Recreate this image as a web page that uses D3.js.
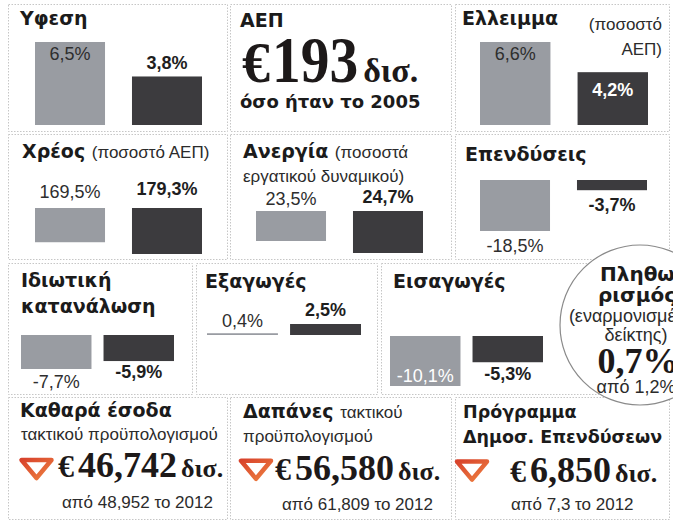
<!DOCTYPE html>
<html>
<head>
<meta charset="utf-8">
<script src="https://cdn.jsdelivr.net/npm/d3@7"></script>
<style>
body { margin: 0; background: #fff; }
svg { display: block; }
.t { font-family: "DejaVu Sans"; font-weight: bold; font-size: 19px; fill: #1b1b1b; }
.n { font-family: "Liberation Sans"; font-size: 17px; font-weight: normal; fill: #2b2b2b; }
.v { font-family: "Liberation Sans"; font-size: 18px; fill: #2e2e2e; }
.vb { font-family: "Liberation Sans"; font-size: 18px; font-weight: bold; fill: #1e1e1e; }
.s { font-family: "Liberation Serif"; font-weight: bold; fill: #1d1919; }
</style>
</head>
<body>
<script>
/**
 * Data
 */
const years = ["2012", "2013"]
const indicators = ["Υφεση", "Ελλειμμα", "Χρέος", "Ανεργία", "Επενδύσεις", "Ιδιωτική κατανάλωση", "Εξαγωγές", "Εισαγωγές"]
const prevValues = [6.5, 6.6, 169.5, 23.5, -18.5, -7.7, 0.4, -10.1]
const currValues = [3.8, 4.2, 179.3, 24.7, -3.7, -5.9, 2.5, -5.3]
const gdpBn = 193
const gdpSameAs = 2005
const inflation = [1.2, 0.7]   // from, to
const budgetNow = [46.742, 56.580, 6.850]
const budgetPrev = [48.952, 61.809, 7.3]
const budgetPrevYear = 2012

/**
 * Setup
 */
const dims = { width: 673, height: 522 }
const svg = d3.select("body")
    .append("svg")
    .attr("width", dims.width)
    .attr("height", dims.height)

const loc = d3.formatLocale({ decimal: ",", thousands: ".", grouping: [3], currency: ["€", ""], minus: "-" })
const pct = v => loc.format(".1f")(v) + "%"
const bn3 = loc.format(".3f")
const bnTrim = loc.format("~f")

const colors = { prev: "#999ca2", curr: "#3c3b3e", border: "#c6c6c6" }

// dotted panel frames [x0, y0, x1, y1]
const frames = [
    [8, 4, 227, 131], [230, 4, 451, 131], [455, 4, 669, 131],
    [8, 134, 227, 259], [230, 134, 451, 259], [455, 134, 669, 259],
    [8, 263, 192, 394], [196, 263, 377, 394], [381, 263, 669, 394],
    [8, 397, 227, 519], [230, 397, 451, 519], [455, 397, 669, 519]
]
svg.selectAll(".frame")
    .data(frames)
    .enter()
    .append("rect")
    .attr("class", "frame")
    .attr("x", d => d[0] + .5).attr("y", d => d[1] + .5)
    .attr("width", d => d[2] - d[0]).attr("height", d => d[3] - d[1])
    .attr("fill", "none")
    .attr("stroke", colors.border)
    .attr("stroke-dasharray", "1.5 1.5")

// helper: a line of mixed text runs (size overrides the class size)
const textLine = (x, y, segs, anchor, size) => {
    const t = svg.append("text").attr("x", x).attr("y", y)
        .attr("text-anchor", anchor || "start")
    segs.forEach(s => {
        const sp = t.append("tspan").attr("class", s[1]).text(s[0])
        if (size) sp.style("font-size", size + "px")
    })
    return t
}

// helper: runs laid out one after another, optional horizontal squeeze
const runs = (x, y, parts) => {
    let cx = x
    parts.forEach(p => {
        const t = svg.append("text").attr("x", cx).attr("y", y)
            .attr("class", "s").style("font-size", p.size + "px").text(p.t)
        let w = t.node().getComputedTextLength()
        if (p.sx) {
            w = w * p.sx
            t.attr("textLength", w).attr("lengthAdjust", "spacingAndGlyphs")
        }
        cx += w + (p.gap || 0)
    })
}

/**
 * Bar panels
 */
const barLayout = [
    { x: [35, 202], base: 125, dir: -1, dom: [0, 6.5], h: 83, pad: .278, lab: [["top", 18], ["top", -7]] },
    { x: [480, 648], base: 125, dir: -1, dom: [0, 6.6], h: 83, pad: .278, lab: [["top", 18], ["top", 24, true]] },
    { x: [35, 202], base: 208, dir: 1, dom: [141, 179.3], h: 46, pad: .278, lab: [["top", -10], ["top", -13]] },
    { x: [256, 423], base: 211, dir: 1, dom: [20.5, 24.7], h: 42, pad: .278, lab: [["top", -6], ["top", -8]] },
    { x: [480, 647], base: 180, dir: 1, dom: [0, 18.5], h: 51, pad: .278, lab: [["bot", 21], ["bot", 21]] },
    { x: [21, 174], base: 335, dir: 1, dom: [0, 7.7], h: 34, pad: .146, lab: [["bot", 19], ["bot", 17]] },
    { x: [207, 361], base: 335, dir: -1, dom: [0, 2.5], h: 11, pad: .146, lab: [["top", -6], ["top", -8]] },
    { x: [390, 543], base: 336, dir: 1, dom: [0, 10.1], h: 50, pad: .146, lab: [["bot", -4, true], ["bot", 18]] }
]

indicators.forEach((name, i) => {
    const L = barLayout[i]
    const xs = d3.scaleBand().domain(years).range(L.x).paddingInner(L.pad)
    const hs = d3.scaleLinear().domain(L.dom).range([0, L.h])
    const rows = [
        { year: years[0], v: prevValues[i], fill: colors.prev, cls: "v" },
        { year: years[1], v: currValues[i], fill: colors.curr, cls: "vb" }
    ]
    rows.forEach(r => {
        const h = hs(Math.abs(r.v))
        r.top = L.dir < 0 ? L.base - h : L.base
        r.bot = r.top + h
    })
    const g = svg.append("g").attr("class", "bars")
    g.selectAll("rect")
        .data(rows)
        .enter()
        .append("rect")
        .attr("x", d => xs(d.year))
        .attr("y", d => d.top)
        .attr("width", xs.bandwidth())
        .attr("height", d => d.bot - d.top)
        .attr("fill", d => d.fill)
    g.selectAll("text")
        .data(rows)
        .enter()
        .append("text")
        .attr("class", d => d.cls)
        .attr("text-anchor", "middle")
        .attr("x", d => xs(d.year) + xs.bandwidth() / 2)
        .attr("y", (d, j) => (L.lab[j][0] === "top" ? d.top : d.bot) + L.lab[j][1])
        .style("fill", (d, j) => L.lab[j][2] ? "#fff" : null)
        .text(d => pct(d.v))
})

// titles
textLine(20, 25, [[indicators[0], "t"]])
textLine(462, 25, [[indicators[1], "t"]])
textLine(662, 30, [["(ποσοστό", "n"]], "end")
textLine(662, 55, [["ΑΕΠ)", "n"]], "end")
textLine(22, 158, [[indicators[2] + " ", "t"], ["(ποσοστό ΑΕΠ)", "n"]])
textLine(243, 158, [[indicators[3] + " ", "t"], ["(ποσοστά", "n"]])
textLine(243, 182, [["εργατικού δυναμικού)", "n"]])
textLine(465, 161, [[indicators[4], "t"]])
textLine(21, 287, [[indicators[5].split(" ")[0], "t"]])
textLine(21, 313, [[indicators[5].split(" ")[1], "t"]])
textLine(205, 288, [[indicators[6], "t"]])
textLine(393, 288, [[indicators[7], "t"]])

/**
 * GDP panel
 */
textLine(240, 27, [["ΑΕΠ", "t"]])
runs(242, 82, [
    { t: "€", size: 56, gap: 2 },
    { t: String(gdpBn), size: 66, sx: .87, gap: 5 },
    { t: "δισ.", size: 34 }
])
textLine(240, 108, [["όσο ήταν το " + gdpSameAs, "t"]], "start", 18)

/**
 * Inflation circle
 */
svg.append("circle")
    .attr("cx", 640).attr("cy", 325).attr("r", 80)
    .attr("fill", "#fff")
    .attr("stroke", "#8a8a8a")
    .attr("stroke-width", 1.2)
textLine(600, 281, [["Πληθω-", "t"]], "start", 20)
textLine(598, 302, [["ρισμός", "t"]], "start", 20)
textLine(636, 322, [["(εναρμονισμένος", "n"]], "middle", 18)
textLine(636, 341, [["δείκτης)", "n"]], "middle", 18)
svg.append("text").attr("class", "s").attr("x", 638).attr("y", 373)
    .attr("text-anchor", "middle")
    .style("font-size", "36px").text(pct(inflation[1]))
textLine(636, 393, [["από " + pct(inflation[0]), "n"]], "middle", 18)

/**
 * Budget panels
 */
const budgetLayout = [
    { tri: 36.5, num: 58, sub: 62 },
    { tri: 256, num: 275, sub: 282 },
    { tri: 472, num: 510, sub: 511 }
]
textLine(20, 417, [["Καθαρά έσοδα", "t"]])
textLine(21, 440, [["τακτικού προϋπολογισμού", "n"]])
textLine(243, 418, [["Δαπάνες ", "t"], ["τακτικού", "n"]])
textLine(243, 442, [["προϋπολογισμού", "n"]])
textLine(463, 418, [["Πρόγραμμα", "t"]], "start", 17.5)
textLine(463, 443, [["Δημοσ. Επενδύσεων", "t"]], "start", 17.5)

const grad = svg.append("defs").append("linearGradient")
    .attr("id", "tg").attr("x1", 0).attr("x2", 1).attr("y1", 0).attr("y2", 1)
grad.append("stop").attr("offset", "0%").attr("stop-color", "#d8432c")
grad.append("stop").attr("offset", "100%").attr("stop-color", "#ee8040")

budgetNow.forEach((v, i) => {
    const L = budgetLayout[i]
    const top = 460 + i * .8
    svg.append("path")
        .attr("d", `M${L.tri - 15},${top} L${L.tri + 15},${top} L${L.tri},${top + 18} Z`)
        .attr("fill", "none")
        .attr("stroke", "url(#tg)")
        .attr("stroke-width", 4.5)
        .attr("stroke-linejoin", "round")
    runs(L.num, 477 + i * 2.5, [
        { t: "€", size: 32, gap: 4 },
        { t: bn3(v), size: 36, gap: 4 },
        { t: "δισ.", size: 26 }
    ])
    textLine(L.sub, 508 + (i ? 2 : 0), [["από " + bnTrim(budgetPrev[i]) + " το " + budgetPrevYear, "n"]])
})
</script>
</body>
</html>
